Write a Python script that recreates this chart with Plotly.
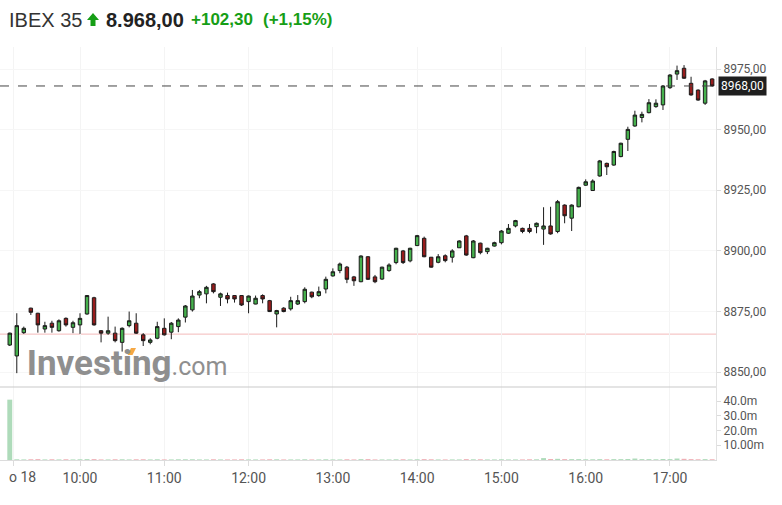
import pandas as pd
import plotly.graph_objects as go

# ---------------- data ----------------
opens = [8861.2, 8856.7, 8866.3, 8876.4, 8874.3, 8867.8, 8870.2, 8867.1, 8872.2, 8868.5,
         8869.5, 8874.0, 8880.7, 8867.1, 8866.1, 8866.1, 8862.3, 8869.2, 8870.2, 8865.4,
         8862.3, 8864.0, 8868.1, 8866.5, 8868.8, 8872.7, 8875.7, 8881.8, 8882.3, 8886.4,
         8880.9, 8881.6, 8881.6, 8881.6, 8879.1, 8878.1, 8881.6, 8879.5, 8874.0, 8876.4,
         8876.1, 8878.1, 8879.1, 8883.0, 8881.6, 8884.3, 8889.7, 8891.9, 8893.3, 8889.3,
         8887.3, 8897.6, 8889.3, 8888.4, 8891.9, 8895.2, 8900.0, 8895.9, 8902.2, 8905.2,
         8897.4, 8895.3, 8898.0, 8897.4, 8901.3, 8906.2, 8897.2, 8903.2, 8899.7, 8902.0,
         8903.4, 8907.3, 8910.3, 8909.3, 8909.3, 8910.0, 8909.0, 8910.3, 8908.0, 8918.9,
         8913.5, 8918.2, 8927.1, 8924.9, 8930.9, 8936.1, 8935.4, 8938.9, 8946.0, 8951.5,
         8955.0, 8957.0, 8959.5, 8960.2, 8967.3, 8972.9, 8975.3, 8969.1, 8966.3, 8960.9,
         8970.9]
highs = [8866.3, 8874.3, 8868.8, 8876.6, 8874.5, 8870.8, 8871.2, 8871.8, 8872.6, 8871.2,
         8874.3, 8881.8, 8881.1, 8867.4, 8872.9, 8868.8, 8868.5, 8875.0, 8874.3, 8866.1,
         8864.0, 8870.8, 8872.2, 8870.7, 8872.2, 8877.7, 8883.9, 8883.9, 8885.6, 8886.7,
         8882.8, 8882.8, 8881.8, 8881.8, 8881.6, 8881.6, 8882.1, 8879.8, 8875.7, 8876.8,
         8881.1, 8881.8, 8885.0, 8883.2, 8885.3, 8889.4, 8892.8, 8895.2, 8893.8, 8889.7,
         8898.2, 8897.9, 8890.1, 8893.5, 8894.9, 8901.3, 8900.4, 8901.3, 8906.6, 8905.9,
         8897.5, 8898.7, 8898.6, 8900.7, 8904.4, 8906.6, 8904.5, 8903.4, 8901.3, 8903.8,
         8908.6, 8911.1, 8912.8, 8909.6, 8911.1, 8911.7, 8918.0, 8918.2, 8921.0, 8919.2,
         8919.2, 8926.5, 8929.5, 8929.5, 8937.5, 8936.4, 8941.3, 8944.6, 8951.2, 8957.8,
         8957.4, 8962.6, 8962.5, 8968.4, 8972.9, 8976.4, 8976.6, 8971.8, 8966.6, 8970.5,
         8971.2]
lows = [8860.8, 8849.6, 8865.8, 8873.6, 8866.3, 8866.3, 8866.3, 8866.7, 8868.8, 8866.1,
        8865.8, 8873.7, 8869.2, 8862.3, 8865.4, 8862.3, 8858.5, 8868.5, 8865.8, 8860.8,
        8861.5, 8863.6, 8865.1, 8863.6, 8866.5, 8870.5, 8875.0, 8880.5, 8878.4, 8882.5,
        8877.3, 8878.4, 8878.7, 8877.3, 8874.3, 8878.0, 8878.4, 8874.8, 8868.5, 8874.7,
        8875.4, 8877.7, 8878.4, 8880.5, 8881.1, 8882.5, 8889.4, 8890.8, 8886.7, 8885.6,
        8887.1, 8888.0, 8886.7, 8888.0, 8891.4, 8894.5, 8894.6, 8895.3, 8902.0, 8897.4,
        8893.1, 8894.9, 8895.3, 8895.2, 8901.2, 8898.0, 8897.0, 8898.6, 8898.7, 8901.8,
        8902.7, 8907.0, 8909.7, 8907.3, 8907.3, 8907.3, 8902.5, 8906.7, 8907.3, 8911.4,
        8908.2, 8918.0, 8926.8, 8924.7, 8930.6, 8931.3, 8935.1, 8938.6, 8941.2, 8951.2,
        8953.0, 8956.7, 8959.0, 8958.1, 8966.8, 8970.5, 8970.9, 8964.0, 8961.9, 8960.2,
        8967.7]
closes = [8866.1, 8869.2, 8868.1, 8874.7, 8869.5, 8869.2, 8868.5, 8871.2, 8869.5, 8870.4,
          8872.2, 8881.6, 8869.5, 8866.1, 8867.1, 8863.0, 8868.1, 8871.2, 8866.1, 8863.0,
          8863.3, 8868.8, 8865.4, 8870.2, 8871.5, 8877.3, 8881.4, 8883.2, 8885.0, 8883.2,
          8882.3, 8880.2, 8880.2, 8877.7, 8881.4, 8880.5, 8880.2, 8875.0, 8875.4, 8875.0,
          8879.5, 8879.5, 8884.2, 8881.1, 8883.2, 8888.3, 8891.4, 8894.6, 8888.3, 8887.7,
          8897.9, 8888.3, 8887.3, 8893.3, 8894.2, 8901.1, 8895.2, 8901.1, 8906.3, 8897.6,
          8893.3, 8897.6, 8896.0, 8900.0, 8904.1, 8898.3, 8904.1, 8899.3, 8901.1, 8903.4,
          8908.2, 8909.3, 8912.5, 8908.0, 8908.0, 8911.4, 8910.3, 8907.0, 8920.3, 8914.5,
          8918.9, 8926.2, 8928.5, 8928.8, 8937.1, 8934.7, 8941.0, 8944.4, 8950.1, 8956.0,
          8956.3, 8961.1, 8960.9, 8968.0, 8972.5, 8974.3, 8971.2, 8964.3, 8962.2, 8970.1,
          8968.0]
# volume in millions
volumes_m = [41.0, 0.5, 0.4, 0.5, 0.6, 0.4, 0.5, 0.4, 0.5, 0.4,
             0.5, 0.6, 0.6, 0.4, 0.4, 0.5, 0.5, 0.4, 0.5, 0.5,
             0.4, 0.5, 0.4, 0.4, 0.5, 0.5, 0.5, 0.4, 0.4, 0.5,
             0.4, 0.4, 0.4, 0.5, 0.4, 0.4, 0.4, 0.5, 0.5, 0.4,
             0.4, 0.4, 0.5, 0.4, 0.4, 0.5, 0.4, 0.4, 0.5, 0.4,
             0.6, 0.6, 0.4, 0.4, 0.4, 0.5, 0.5, 0.4, 0.5, 0.6,
             0.5, 0.4, 0.4, 0.4, 0.4, 0.6, 0.5, 0.5, 0.4, 0.4,
             0.5, 0.4, 0.4, 0.4, 0.5, 0.5, 1.3, 0.7, 0.8, 0.6,
             0.6, 0.6, 0.5, 0.5, 0.6, 0.5, 0.6, 0.6, 0.7, 1.0,
             0.6, 0.6, 0.5, 0.7, 0.6, 1.0, 0.8, 0.6, 0.5, 0.6,
             0.5]
prev_close = 8865.70
last_price = 8968.00
price_ticks = [8850, 8875, 8900, 8925, 8950, 8975]
price_tick_labels = ["8850,00", "8875,00", "8900,00", "8925,00", "8950,00", "8975,00"]
vol_ticks_m = [10, 20, 30, 40]
vol_tick_labels = ["10.00m", "20.0m", "30.0m", "40.0m"]
hour_labels = ["10:00", "11:00", "12:00", "13:00", "14:00", "15:00", "16:00", "17:00"]
day = "2018-05-18"

times = pd.date_range(f"{day} 09:10", periods=len(opens), freq="5min")
hour_ticks = [pd.Timestamp(f"{day} {h}") for h in hour_labels]

# ---------------- layout helpers (pixels -> paper) ----------------
W, H = 782, 505
PL, PR, PT, PB = 0, 716, 47, 460
SEP = 387


def pxx(px):
    return (px - PL) / (PR - PL)


def pxy(py):
    return (PB - py) / (PB - PT)


vol_dom_top = pxy(SEP)

fig = go.Figure()

# watermark (below candles)
fig.add_trace(go.Scatter(
    x=[pd.Timestamp(f"{day} 10:33:30")], y=[8852.6],
    mode="text",
    text=["<b>Investing</b><span style='font-size:25px;font-weight:normal'>.com</span>"],
    textfont=dict(family="Roboto, Arial", size=35, color="#8f8f8f"),
    textposition="middle center", hoverinfo="skip", showlegend=False,
    xaxis="x", yaxis="y"))

inc = [c >= o for o, c in zip(opens, closes)]
vol_colors = ["rgba(120,195,140,0.6)" if i else "rgba(225,110,120,0.55)" for i in inc]
fig.add_trace(go.Bar(
    x=times, y=[v * 1e6 for v in volumes_m], marker=dict(color=vol_colors, line=dict(width=0)),
    xaxis="x", yaxis="y2", showlegend=False, hoverinfo="skip"))

fig.add_trace(go.Candlestick(
    x=times, open=opens, high=highs, low=lows, close=closes,
    increasing=dict(line=dict(color="#1b1b1b", width=1), fillcolor="#45b04c"),
    decreasing=dict(line=dict(color="#1b1b1b", width=1), fillcolor="#981c1c"),
    whiskerwidth=0, xaxis="x", yaxis="y", showlegend=False, hoverinfo="skip"))

x_start = pd.Timestamp(f"{day} 09:03:03")
x_end = pd.Timestamp(f"{day} 17:32:45")

fig.update_layout(
    width=W, height=H,
    margin=dict(l=PL, r=W - PR, t=PT, b=H - PB, pad=0, autoexpand=False),
    paper_bgcolor="white", plot_bgcolor="white",
    showlegend=False, boxgap=0.3, bargap=0.3,
    font=dict(family="Roboto, Arial", color="#555"),
    xaxis=dict(
        domain=[0, 1], anchor="y2", type="date", automargin=False,
        range=[x_start, x_end], rangeslider=dict(visible=False),
        tickvals=[pd.Timestamp(f"{day} 09:13")] + hour_ticks,
        ticktext=[""] + hour_labels,
        tickfont=dict(size=14, color="#555"),
        ticks="outside", ticklen=5, tickcolor="#dcdcdc",
        showgrid=True, gridcolor="#f4f4f4",
        showline=True, linecolor="#dcdcdc", linewidth=1,
        zeroline=False, fixedrange=True),
    yaxis=dict(
        domain=[vol_dom_top, 1], anchor="x", side="right", automargin=False,
        range=[8843.9, 8984.07],
        tickvals=price_ticks, ticktext=price_tick_labels,
        tickfont=dict(size=12, color="#555"),
        ticks="outside", ticklen=4, tickcolor="#dcdcdc",
        showgrid=True, gridcolor="#f6f6f6",
        showline=True, linecolor="#e2e2e2", zeroline=False),
    yaxis2=dict(
        domain=[0, vol_dom_top], anchor="x", side="right", automargin=False,
        range=[0, 49.6e6],
        tickvals=[v * 1e6 for v in vol_ticks_m], ticktext=vol_tick_labels,
        tickfont=dict(size=12, color="#555"),
        ticks="outside", ticklen=4, tickcolor="#dcdcdc",
        showgrid=False, showline=True, linecolor="#e2e2e2", zeroline=False),
)

shapes = [
    # previous close line
    dict(type="line", xref="paper", yref="y", x0=0, x1=1, y0=prev_close, y1=prev_close,
         line=dict(color="#f3b9b9", width=1), layer="below"),
    # last price dashed line
    dict(type="line", xref="paper", yref="y", x0=0, x1=1, y0=last_price, y1=last_price,
         line=dict(color="#444", width=1, dash="dash")),
    # separator between price and volume panels
    dict(type="line", xref="paper", yref="paper", x0=0, x1=1, y0=vol_dom_top, y1=vol_dom_top,
         line=dict(color="#c9c9c9", width=1)),
    # orange accent of the watermark logo
    dict(type="path", xref="paper", yref="paper", layer="below",
         path=f"M {pxx(127.5)},{pxy(355)} L {pxx(131)},{pxy(348)} L {pxx(136)},{pxy(348)} "
              f"L {pxx(132.5)},{pxy(355)} Z",
         fillcolor="#f6a844", line=dict(width=0)),
    # green up arrow in the title
    dict(type="path", xref="paper", yref="paper",
         path=f"M {pxx(87)},{pxy(20)} L {pxx(93)},{pxy(13)} L {pxx(99)},{pxy(20)} "
              f"L {pxx(95.5)},{pxy(20)} L {pxx(95.5)},{pxy(26)} L {pxx(90.5)},{pxy(26)} "
              f"L {pxx(90.5)},{pxy(20)} Z",
         fillcolor="#169e16", line=dict(width=0)),
]
fig.update_layout(shapes=shapes)

TF = "Liberation Sans, Arial"
annotations = [
    dict(text="IBEX 35", x=pxx(7), y=pxy(20), xref="paper", yref="paper",
         xanchor="left", yanchor="middle", showarrow=False,
         font=dict(family=TF, size=20, color="#333")),
    dict(text="<b>8.968,00</b>", x=pxx(104), y=pxy(20), xref="paper", yref="paper",
         xanchor="left", yanchor="middle", showarrow=False,
         font=dict(family=TF, size=20, color="#222")),
    dict(text="<b>+102,30</b>", x=pxx(189), y=pxy(20), xref="paper", yref="paper",
         xanchor="left", yanchor="middle", showarrow=False,
         font=dict(family=TF, size=17, color="#169e16")),
    dict(text="<b>(+1,15%)</b>", x=pxx(261), y=pxy(20), xref="paper", yref="paper",
         xanchor="left", yanchor="middle", showarrow=False,
         font=dict(family=TF, size=17, color="#169e16")),
    # current price label on the axis
    dict(text="8968,00", x=pxx(718), y=last_price, xref="paper", yref="y",
         xanchor="left", yanchor="middle", showarrow=False,
         bgcolor="#1f1f1f", borderpad=2,
         font=dict(family="Roboto, Arial", size=12, color="white")),
    # clipped day label at the left of the time axis
    dict(text="o 18", x=pxx(22), y=pxy(477), xref="paper", yref="paper",
         xanchor="center", yanchor="middle", showarrow=False,
         font=dict(family="Roboto, Arial", size=14, color="#555")),
]
fig.update_layout(annotations=annotations)

fig.write_html("out.html", config={"displayModeBar": False},
               post_script="document.body.style.margin='0';document.body.style.padding='0';")
